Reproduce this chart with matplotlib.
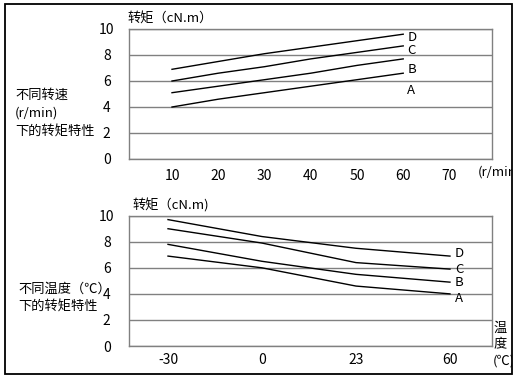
import matplotlib
matplotlib.use("Agg")
import matplotlib.pyplot as plt
from matplotlib.patches import Rectangle

plt.rcParams['font.family'] = ['Noto Sans CJK SC', 'DejaVu Sans']

# torque vs speed
speed = [10, 20, 30, 40, 50, 60]
speed_ticks = [10, 20, 30, 40, 50, 60, 70]
speed_A = [4.0, 4.6, 5.1, 5.6, 6.1, 6.6]
speed_B = [5.1, 5.6, 6.1, 6.6, 7.2, 7.7]
speed_C = [6.0, 6.6, 7.1, 7.7, 8.2, 8.7]
speed_D = [6.9, 7.5, 8.1, 8.6, 9.1, 9.6]

# torque vs temperature
temps = ["-30", "0", "23", "60"]
temp_A = [6.9, 6.0, 4.6, 4.0]
temp_B = [7.8, 6.5, 5.5, 4.9]
temp_C = [9.0, 7.9, 6.4, 5.9]
temp_D = [9.7, 8.4, 7.5, 6.9]

names = ["A", "B", "C", "D"]
GRID = "#808080"
W, H = 522, 381


def fx(px):
    return px / W


def fy(py):
    return 1 - py / H


def style_axes(ax):
    ax.set_ylim(0, 10)
    ax.set_yticks(range(0, 11, 2))
    ax.yaxis.grid(True, color=GRID, lw=1)
    ax.set_axisbelow(True)
    for s in ax.spines.values():
        s.set_color(GRID)
        s.set_linewidth(1)
    ax.tick_params(length=0, labelsize=10)
    ax.tick_params(axis="y", pad=16)
    plt.setp(ax.get_yticklabels(), ha="center")


fig = plt.figure(figsize=(W / 100, H / 100), dpi=100)

# ---------------- top: speed ----------------
ax1 = fig.add_axes([fx(129), fy(159), fx(492 - 129), (159 - 29) / H])
style_axes(ax1)
ax1.set_xlim(0.7, 79.2)
ax1.set_xticks(speed_ticks)
ax1.tick_params(axis="x", pad=7)
offs1 = [(4, -17), (4, -11), (4, -5), (4, -3)]
for name, vals, off in zip(names, [speed_A, speed_B, speed_C, speed_D], offs1):
    ax1.plot(speed, vals, color="black", lw=1)
    ax1.annotate(name, (speed[-1], vals[-1]), xytext=off, textcoords="offset pixels",
                 ha="left", va="center", fontsize=9.5)

# ---------------- bottom: temperature ----------------
ax2 = fig.add_axes([fx(129), fy(346), fx(492 - 129), (346 - 215.7) / H])
style_axes(ax2)
xi = list(range(len(temps)))
ax2.set_xlim(-0.415, 3.447)
ax2.set_xticks(xi)
ax2.set_xticklabels(temps)
ax2.tick_params(axis="x", pad=5)
offs2 = [(5, -5), (5, 0), (5, 0), (5, 3)]
for name, vals, off in zip(names, [temp_A, temp_B, temp_C, temp_D], offs2):
    ax2.plot(xi, vals, color="black", lw=1)
    ax2.annotate(name, (xi[-1], vals[-1]), xytext=off, textcoords="offset pixels",
                 ha="left", va="center", fontsize=9.5)

# ---------------- texts ----------------
fig.text(fx(127), fy(19), "转矩（cN.m）", ha="left", va="center", fontsize=9.5)
fig.text(fx(132), fy(205), "转矩（cN.m)", ha="left", va="center", fontsize=9.5)

fig.text(fx(15), fy(95), "不同转速", ha="left", va="center", fontsize=9.5)
fig.text(fx(15), fy(113), "(r/min)", ha="left", va="center", fontsize=9.5)
fig.text(fx(15), fy(132), "下的转矩特性", ha="left", va="center", fontsize=9.5)

fig.text(fx(18), fy(289), "不同温度（℃）", ha="left", va="center", fontsize=9.5)
fig.text(fx(18), fy(307), "下的转矩特性", ha="left", va="center", fontsize=9.5)

border = Rectangle((fx(5), fy(374)), fx(512 - 5), (374 - 4) / H, transform=fig.transFigure,
                   fill=False, ec="black", lw=1.3)
fig.patches.append(border)

t = fig.text(fx(478), fy(172), "(r/min)", ha="left", va="center", fontsize=9.5)
t.set_clip_path(border)
t2 = fig.text(fx(493), fy(345), "温\n度\n(℃)", ha="left", va="center", fontsize=9.5,
              linespacing=1.35)
t2.set_clip_path(border)

fig.savefig("out.png", dpi=100)
